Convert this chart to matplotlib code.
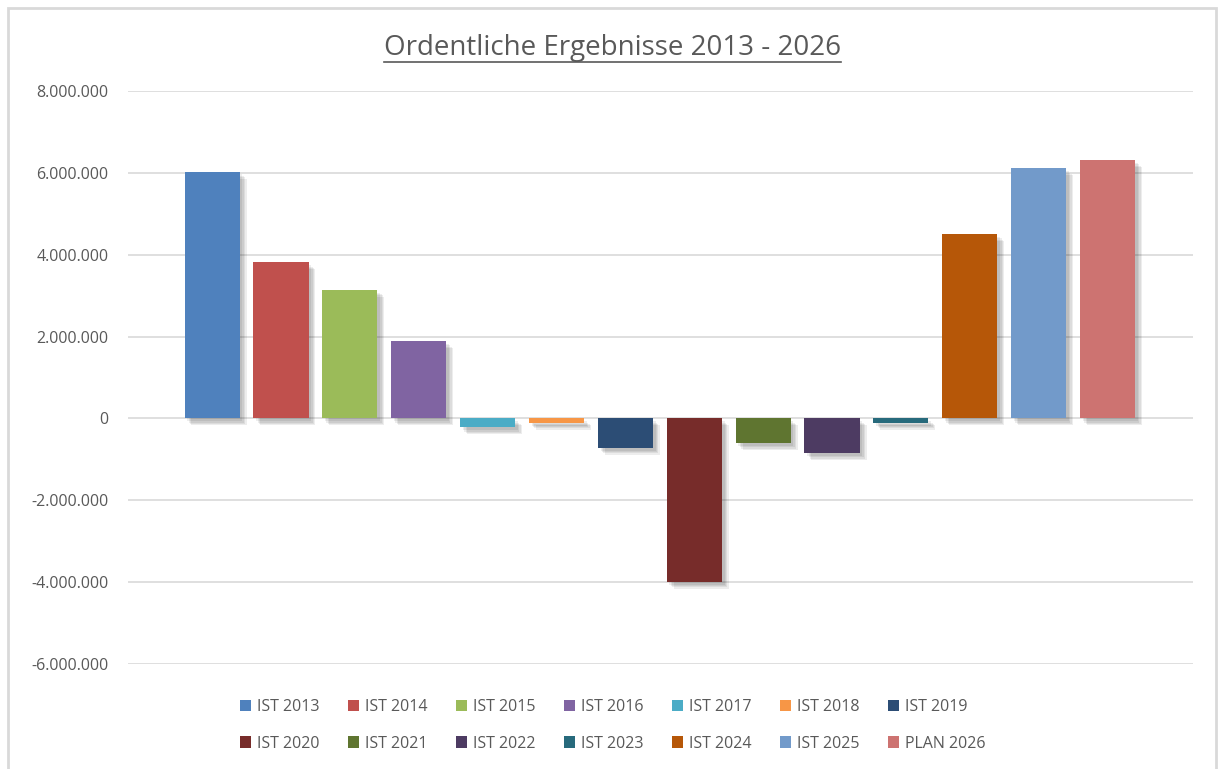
import numpy as np
import matplotlib
matplotlib.use('Agg')
import matplotlib.pyplot as plt
import matplotlib.patheffects as pe
from matplotlib.patches import Rectangle, Patch
from matplotlib.lines import Line2D
from matplotlib.ticker import FuncFormatter

# Daten
labels = ['IST 2013', 'IST 2014', 'IST 2015', 'IST 2016', 'IST 2017', 'IST 2018', 'IST 2019',
          'IST 2020', 'IST 2021', 'IST 2022', 'IST 2023', 'IST 2024', 'IST 2025', 'PLAN 2026']
values = [6030000, 3810000, 3140000, 1890000, -220000, -110000, -720000,
          -3990000, -600000, -850000, -110000, 4500000, 6110000, 6310000]
colors = ['#4F81BD', '#C0504D', '#9BBB59', '#8064A2', '#4BACC6', '#F79646', '#2C4D75',
          '#772C2A', '#5F7530', '#4D3B62', '#276A7C', '#B65708', '#729ACA', '#CD7371']
yticks = [-6000000, -4000000, -2000000, 0, 2000000, 4000000, 6000000, 8000000]

plt.rcParams['font.family'] = ['Open Sans', 'DejaVu Sans']
TXT = '#595959'

fig = plt.figure(figsize=(12.18, 7.69), dpi=100)
ax = fig.add_axes([0.1051, 0.1365, 0.8744, 0.7452])

x = np.arange(len(values))
# weicher Schatten: mehrere schwache Lagen
shadow = [pe.SimplePatchShadow(offset=(d, -d), shadow_rgbFace='#000000', alpha=0.07)
          for d in (5, 4, 3, 2)] + [pe.Normal()]
bars = ax.bar(x, values, width=0.8, color=colors, zorder=3)
for b in bars:
    b.set_path_effects(shadow)

ax.set_ylim(-6000000, 8000000)
ax.set_xlim(-1.22, len(values) - 1 + 1.24)
ax.set_yticks(yticks)
ax.yaxis.set_major_formatter(FuncFormatter(lambda v, p: f'{int(v):,}'.replace(',', '.')))
ax.set_xticks([])
ax.tick_params(axis='y', length=0, pad=14, labelsize=11.5, labelcolor=TXT)
ax.grid(True, axis='y', color='#D9D9D9', linewidth=1.2, zorder=0)
for s in ax.spines.values():
    s.set_visible(False)

# Rahmen um das Diagramm (unten abgeschnitten wie im Original)
fig.patches.append(Rectangle((0.0066, -0.02), 0.992, 1.0096, transform=fig.transFigure,
                             fill=False, edgecolor='#D9D9D9', linewidth=2))

# Titel mit Unterstreichung
title = fig.text(0.503, 0.937, 'Ordentliche Ergebnisse 2013 - 2026', ha='center', va='center',
                 fontsize=20, color=TXT)
fig.canvas.draw()
bb = title.get_window_extent().transformed(fig.transFigure.inverted())
fig.add_artist(Line2D([bb.x0, bb.x1], [bb.y0 + 0.001, bb.y0 + 0.001], transform=fig.transFigure,
                      color=TXT, linewidth=1.2))

# Legende: zeilenweise Reihenfolge (matplotlib füllt spaltenweise)
ncol = 7
order = [r * ncol + c for c in range(ncol) for r in range(2)]
handles = [Patch(facecolor=colors[i], edgecolor='none') for i in order]
fig.legend(handles, [labels[i] for i in order], loc='upper center', bbox_to_anchor=(0.503, 0.11),
           ncol=ncol, frameon=False, fontsize=11.5, labelcolor=TXT, handlelength=0.7,
           handleheight=0.7, handletextpad=0.4, columnspacing=1.75, labelspacing=1.3)

fig.savefig('out.png', dpi=100)
